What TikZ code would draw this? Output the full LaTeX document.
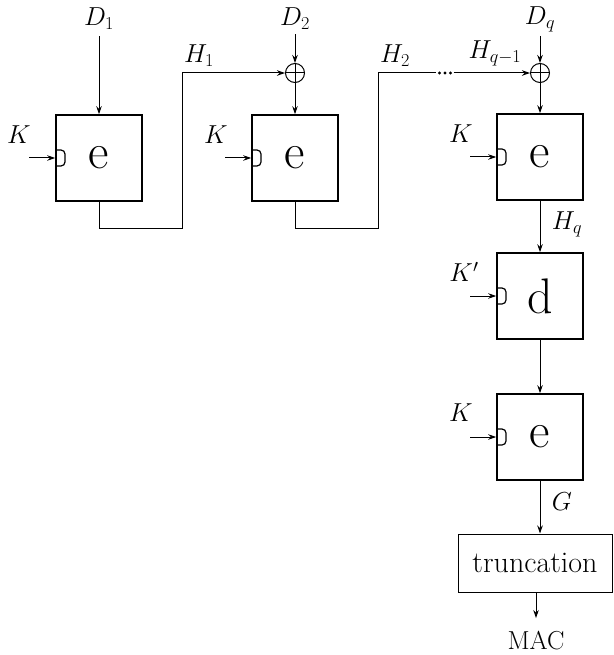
\documentclass[tikz,border=0pt]{standalone}
\usepackage{fix-cm}
\usepackage{fontspec}
\usetikzlibrary{arrows.meta}
\begin{document}
\begin{tikzpicture}[x=1pt,y=-1pt,
  blk/.style={draw,line width=1.6pt,minimum width=86pt,minimum height=86pt,inner sep=0pt,font=\fontsize{50}{56}\selectfont},
  keyed/.style={path picture={\draw[line width=1.2pt,rounded corners=4pt] ([yshift=8pt]path picture bounding box.west) -- ++(9pt,0) -- ++(0,-16pt) -- ++(-9pt,0);}},
  lbl/.style={font=\fontsize{26}{30}\selectfont,inner sep=2pt},
  conn/.style={line width=1pt},
  arr/.style={conn,-{Stealth[length=8pt,width=5.5pt]}},
  xor/.style={draw,circle,minimum size=19pt,inner sep=0pt,line width=1pt,
    path picture={\draw[line width=1pt] (path picture bounding box.north) -- (path picture bounding box.south) (path picture bounding box.west) -- (path picture bounding box.east);}},
  dotsbox/.style={inner sep=0pt,minimum width=17pt,minimum height=4pt,
    path picture={\foreach \i in {-5.5,0,5.5} \fill ([xshift=\i pt]path picture bounding box.center) circle (1.6pt);}}]
\useasboundingbox (0,0) rectangle (613,655);

% blocks
\node[blk,keyed] (e1) at (99,158) {e};
\node[blk,keyed] (e2) at (295,158) {e};
\node[blk,keyed] (e3) at (540,157) {e};
\node[blk,keyed] (d)  at (540,296) {d};
\node[blk,keyed] (e4) at (540,437) {e};
\node[draw,line width=1pt,minimum width=154pt,minimum height=58pt,inner sep=0pt,font=\fontsize{30}{36}\selectfont] (tr) at (535,563) {truncation};
\node[font=\fontsize{26}{30}\selectfont] (mac) at (536,641) {MAC};

% xors
\node[xor] (o1) at (295,73) {};
\node[xor] (oq) at (540,73) {};
\node[dotsbox] (dots) at (445,73) {};

% labels
\node[lbl] (D1) at (99,19) {$D_1$};
\node[lbl] (D2) at (295,19) {$D_2$};
\node[lbl] (Dq) at (540,19) {$D_q$};
\node[lbl] (H1) at (199,56) {$H_1$};
\node[lbl] (H2) at (395,56) {$H_2$};
\node[lbl] (Hq1) at (495,53) {$H_{q-1}$};
\node[lbl] (Hq) at (567,224) {$H_q$};
\node[lbl] (G) at (562,502) {$G$};
\node[lbl] (K1) at (19,135) {$K$};
\node[lbl] (K2) at (216,135) {$K$};
\node[lbl] (K3) at (461,134) {$K$};
\node[lbl] (K4) at (464,272) {$K'$};
\node[lbl] (K5) at (461,413) {$K$};

% coordinates
\coordinate (t1) at (182,228);
\coordinate (t2) at (378,228);
\coordinate (k1) at (29,158);
\coordinate (k2) at (225,158);
\coordinate (k3) at (470,157);
\coordinate (k4) at (470,296);
\coordinate (k5) at (470,437);

% key inputs
\draw[arr] (k1) -- (e1.west);
\draw[arr] (k2) -- (e2.west);
\draw[arr] (k3) -- (e3.west);
\draw[arr] (k4) -- (d.west);
\draw[arr] (k5) -- (e4.west);

% data inputs
\draw[arr,shorten <=4pt] (D1) -- (e1);
\draw[arr,shorten <=2pt] (D2) -- (o1);
\draw[arr,shorten <=2pt] (Dq) -- (oq);
\draw[arr] (o1) -- (e2);
\draw[arr] (oq) -- (e3);

% chaining
\draw[arr] (e1.south) |- (t1) |- (o1.west);
\draw[conn] (e2.south) |- (t2) |- (dots.west);
\draw[arr] (dots.east) -- (oq.west);

% final stages
\draw[arr] (e3) -- (d);
\draw[arr] (d) -- (e4);
\draw[arr] (e4.south) -- (e4.south |- tr.north);
\draw[arr,shorten >=10pt] (mac |- tr.south) -- (mac.north);
\end{tikzpicture}
\end{document}
